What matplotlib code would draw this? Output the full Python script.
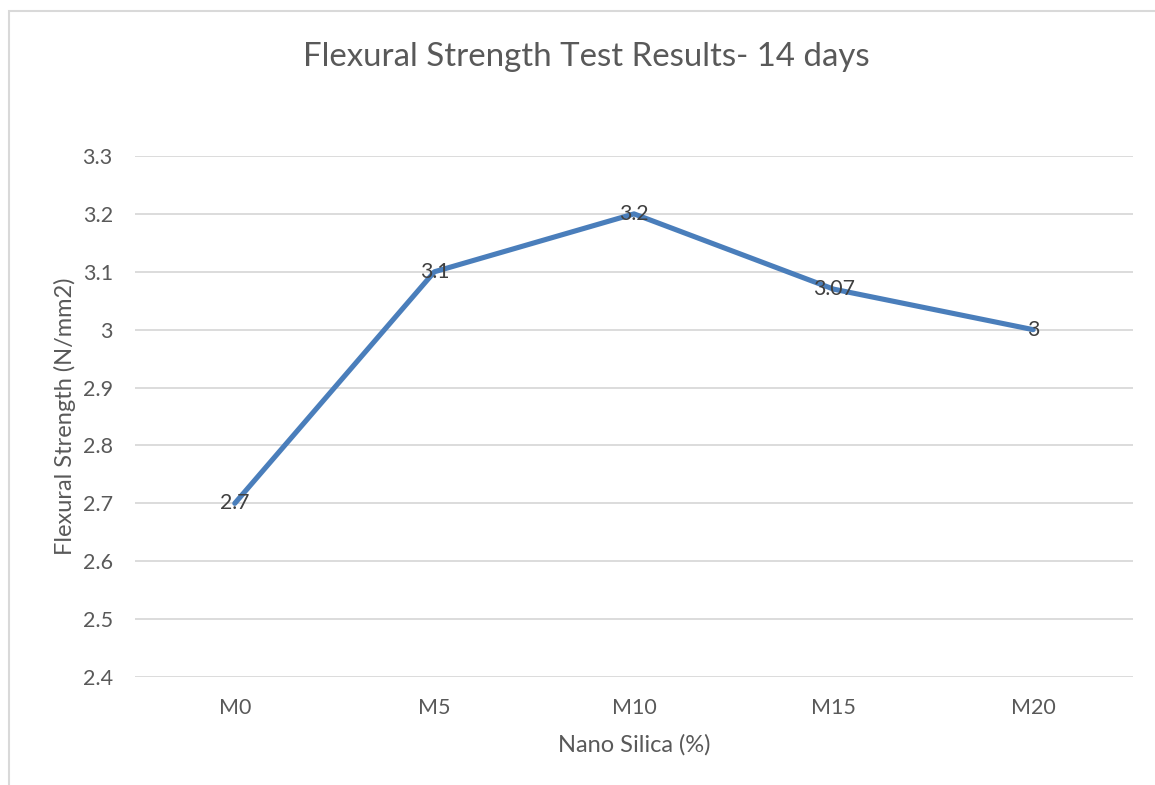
import matplotlib
matplotlib.use("Agg")
import matplotlib.pyplot as plt
from matplotlib.patches import Rectangle

# data
mixes = ["M0", "M5", "M10", "M15", "M20"]
strength = [2.7, 3.1, 3.2, 3.07, 3.0]
labels = ["2.7", "3.1", "3.2", "3.07", "3"]
yticks = [2.4, 2.5, 2.6, 2.7, 2.8, 2.9, 3.0, 3.1, 3.2, 3.3]
yticklabels = ["2.4", "2.5", "2.6", "2.7", "2.8", "2.9", "3", "3.1", "3.2", "3.3"]

plt.rcParams['font.family'] = ['Lato', 'DejaVu Sans']

W, H = 1155, 785
fig = plt.figure(figsize=(W/100, H/100), dpi=100)

# chart border (only top/left visible in the reference)
fig.patches.append(Rectangle((9/W, -0.05), 1.2, 1 - 11/H + 0.05, transform=fig.transFigure,
                             fill=False, edgecolor="#d9d9d9", linewidth=1.5))

left, right = 135, 1133
top, bottom = 156, 677
ax = fig.add_axes([left/W, 1 - bottom/H, (right-left)/W, (bottom-top)/H])

x = list(range(len(mixes)))
ax.plot(x, strength, color="#4a7ebb", linewidth=3.7, solid_capstyle="round", zorder=3)
for xi, yi, lab in zip(x, strength, labels):
    ax.text(xi, yi, lab, ha="center", va="center", fontsize=15.3, color="#404040", zorder=4)

ax.set_xlim(-0.5, len(mixes) - 0.5)
ax.set_ylim(2.4, 3.3)
ax.set_yticks(yticks)
ax.set_yticklabels(yticklabels)
ax.set_xticks(x)
ax.set_xticklabels(mixes)
ax.yaxis.grid(True, color="#d9d9d9", linewidth=1.3)
ax.set_axisbelow(True)
for s in ax.spines.values():
    s.set_visible(False)
ax.tick_params(length=0, labelsize=15.5, labelcolor="#595959")
ax.tick_params(axis="y", pad=16)
ax.tick_params(axis="x", pad=15)

ax.set_xlabel("Nano Silica (%)", fontsize=17, color="#595959", labelpad=12)
ax.set_ylabel("Flexural Strength (N/mm2)", fontsize=17, color="#595959", labelpad=5)

fig.text(586/W, 1 - 57/H, "Flexural Strength Test Results- 14 days", ha="center", va="center",
         fontsize=23.8, color="#595959")

fig.savefig("out.png", dpi=100)
